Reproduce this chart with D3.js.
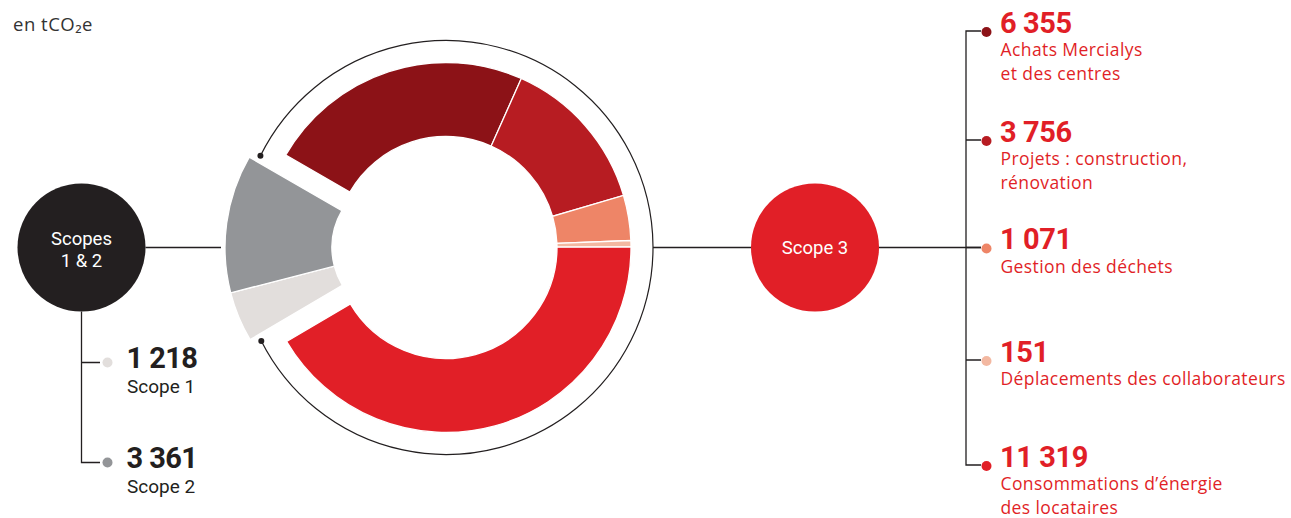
<!DOCTYPE html>
<html><head><meta charset="utf-8">
<script src="https://cdn.jsdelivr.net/npm/d3@7"></script>
<style>body{margin:0;background:#fff} svg{display:block}</style>
</head><body>
<svg id="c" width="1291" height="518"></svg>
<script>
const unitLabel = "en tCO₂e";
const scope12Title = ["Scopes", "1 & 2"];
const scope3Title = "Scope 3";
const scope12Names = ["Scope 1", "Scope 2"];
const scope12Values = [1218, 3361];
const scope12Colors = ["#E2DEDC", "#939598"];
const scope3Names = [["Achats Mercialys", "et des centres"], ["Projets : construction,", "rénovation"], ["Gestion des déchets"], ["Déplacements des collaborateurs"], ["Consommations d’énergie", "des locataires"]];
const scope3Values = [6355, 3756, 1071, 151, 11319];
const scope3Colors = ["#8C1217", "#B71C22", "#EE8567", "#F3B8A1", "#E11F27"];

const fmt = d3.formatLocale({decimal: ",", thousands: " ", grouping: [3], currency: ["", " €"]}).format(",d");
const svg = d3.select("#c");
const ink = "#231F20";
const red = "#E11F27";
const FONT = "Roboto, 'Open Sans', sans-serif";
const LFONT = "'Open Sans', Roboto, sans-serif";

// unit
svg.append("text").attr("x", 13).attr("y", 31).attr("font-family", LFONT).attr("font-size", 18.5)
  .attr("letter-spacing", 0.5).attr("fill", "#333").text(unitLabel);

// donut
const cx = 446, cy = 247.5;
const all = scope3Values.map((v, i) => ({g: 3, i, v, c: scope3Colors[i]}))
  .concat(scope12Values.map((v, i) => ({g: 12, i, v, c: scope12Colors[i]})));
const a0 = -Math.PI / 3;
const pie = d3.pie().sort(null).value(d => d.v).startAngle(a0).endAngle(a0 + 2 * Math.PI);
const arcs = pie(all);
const arc3 = d3.arc().innerRadius(111).outerRadius(185);
const arc12 = d3.arc().innerRadius(74).outerRadius(181);
const s3 = arcs.filter(d => d.data.g === 3), s12 = arcs.filter(d => d.data.g === 12);
const s3Start = s3[0].startAngle, s3End = s3[s3.length - 1].endAngle;
const mid12 = (s12[0].startAngle + s12[s12.length - 1].endAngle) / 2;
const off = 40;

const g3 = svg.append("g").attr("transform", `translate(${cx},${cy})`);
g3.selectAll("path").data(s3).join("path").attr("d", arc3).attr("fill", d => d.data.c)
  .attr("stroke", "#fff").attr("stroke-width", 1.3);
const g12 = svg.append("g").attr("transform", `translate(${cx + off * Math.sin(mid12)},${cy - off * Math.cos(mid12)})`);
g12.selectAll("path").data(s12).join("path").attr("d", arc12).attr("fill", d => d.data.c)
  .attr("stroke", "#fff").attr("stroke-width", 1.3);

// outline ring around scope 3
const ringR = 207, pad = 3.7 * Math.PI / 180;
const rs = s3Start - pad, re = s3End + pad;
const p = d3.path();
p.arc(cx, cy, ringR, rs - Math.PI / 2, re - Math.PI / 2, false);
svg.append("path").attr("d", p.toString()).attr("fill", "none").attr("stroke", ink).attr("stroke-width", 1.2);
[rs, re].forEach(a => svg.append("circle").attr("cx", cx + ringR * Math.sin(a)).attr("cy", cy - ringR * Math.cos(a))
  .attr("r", 3).attr("fill", ink));

// connector lines
const line = (x1, y1, x2, y2) => svg.append("line").attr("x1", x1).attr("y1", y1).attr("x2", x2).attr("y2", y2)
  .attr("stroke", ink).attr("stroke-width", 1.3);

// left circle
const lcx = 81.5, cr = 64;
line(lcx + cr, cy, 221, cy);
svg.append("circle").attr("cx", lcx).attr("cy", cy).attr("r", cr).attr("fill", ink);
svg.append("text").attr("x", lcx).attr("y", cy - 3).attr("text-anchor", "middle").attr("font-family", FONT)
  .attr("font-size", 18.5).attr("fill", "#fff").text(scope12Title[0]);
svg.append("text").attr("x", lcx).attr("y", cy + 19).attr("text-anchor", "middle").attr("font-family", FONT)
  .attr("font-size", 18.5).attr("fill", "#fff").text(scope12Title[1]);

// left legend
const leftY = [362.5, 462.5];
svg.append("path").attr("d", `M${lcx},${cy + cr}V${leftY[1]}H100M${lcx},${leftY[0]}H100`).attr("fill", "none")
  .attr("stroke", ink).attr("stroke-width", 1.3);
scope12Values.forEach((v, i) => {
  svg.append("circle").attr("cx", 107.5).attr("cy", leftY[i]).attr("r", 5).attr("fill", scope12Colors[i]);
  svg.append("text").attr("x", 126.5).attr("y", leftY[i] + 5).attr("font-family", FONT).attr("font-weight", 700)
    .attr("font-size", 29).attr("letter-spacing", -0.6).attr("fill", ink).text(fmt(v));
  svg.append("text").attr("x", 127).attr("y", leftY[i] + 30.5).attr("font-family", FONT)
    .attr("font-size", 19).attr("fill", ink).text(scope12Names[i]);
});

// scope 3 circle
const rcx = 815;
line(cx + ringR, cy, rcx - cr, cy);
line(rcx + cr, cy, 981, cy);
svg.append("circle").attr("cx", rcx).attr("cy", cy).attr("r", cr).attr("fill", red);
svg.append("text").attr("x", rcx).attr("y", cy + 6.5).attr("text-anchor", "middle").attr("font-family", FONT)
  .attr("font-size", 18.5).attr("fill", "#fff").text(scope3Title);

// right legend
const rightY = [31, 140, 247.5, 360, 465];
const vx = 966;
svg.append("path").attr("d", `M981,${rightY[0]}H${vx}V${rightY[4]}H981` +
  rightY.slice(1, 4).map(y => `M${vx},${y}H981`).join("")).attr("fill", "none").attr("stroke", ink).attr("stroke-width", 1.3);
scope3Values.forEach((v, i) => {
  svg.append("circle").attr("cx", 986.5).attr("cy", rightY[i] + 1).attr("r", 5).attr("fill", scope3Colors[i]);
  svg.append("text").attr("x", 1000).attr("y", rightY[i] + 1.5).attr("font-family", FONT).attr("font-weight", 700)
    .attr("font-size", 29).attr("letter-spacing", -0.4).attr("fill", red).text(fmt(v));
  scope3Names[i].forEach((t, j) => {
    svg.append("text").attr("x", 1000.5).attr("y", rightY[i] + 25 + j * 23.5).attr("font-family", LFONT)
      .attr("font-size", 17.5).attr("letter-spacing", 0.4).attr("fill", red).text(t);
  });
});
</script>
</body></html>
